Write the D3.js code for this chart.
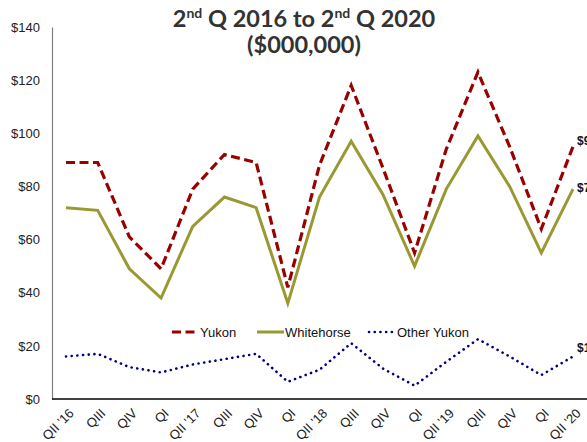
<!DOCTYPE html>
<html>

<head>
    <meta charset="utf-8">
    <title></title>
    <style>
        body { margin: 0; background: #fff; }
        text { font-family: "Liberation Sans", Arial, sans-serif; }
    </style>
</head>

<body>
    <script src="https://cdn.jsdelivr.net/npm/d3@7/dist/d3.min.js"></script>
    <script>
    // categories (quarters)
    let quarters = ["QII '16", "QIII", "QIV", "QI", "QII '17", "QIII", "QIV", "QI", "QII '18",
        "QIII", "QIV", "QI", "QII '19", "QIII", "QIV", "QI", "QII '20"];

    // series values ($000,000)
    let yukon = [89, 89, 61, 49, 79, 92, 89, 42, 88, 118, 87, 55, 94, 123, 95, 64, 95];
    let whitehorse = [72, 71, 49, 38, 65, 76, 72, 36, 76, 97, 77, 50, 79, 99, 80, 55, 79];
    let otherYukon = [16, 17, 12, 10, 13, 15, 17, 6.5, 11, 21, 11.5, 5, 14, 22.5, 16, 9, 16];

    let yTicks = [0, 20, 40, 60, 80, 100, 120, 140];
    let seriesNames = ["Yukon", "Whitehorse", "Other Yukon"];

    let width = 587,
        height = 442;

    let svg = d3.select('body').append('svg').attr('width', width).attr('height', height);

    // keys: indices, so repeated labels are separate points
    let xScale = d3.scalePoint()
        .domain(d3.range(quarters.length))
        .range([66, 573]);

    let yScale = d3.scaleLinear()
        .domain([0, 140])
        .range([399, 27]);

    // y axis
    let yAxis = d3.axisLeft(yScale)
        .tickValues(yTicks)
        .tickSize(0)
        .tickPadding(12)
        .tickFormat(d => "$" + d);

    let gy = svg.append("g")
        .attr("transform", "translate(52,0)")
        .call(yAxis);
    gy.select(".domain").attr("stroke", "#808080").attr("stroke-width", 1.2);
    gy.selectAll("text").attr("font-size", 13).attr("fill", "#222");

    // x axis
    let xAxis = d3.axisBottom(xScale)
        .tickSize(0)
        .tickFormat(i => quarters[i]);

    let gx = svg.append("g")
        .attr("transform", "translate(0,399)")
        .call(xAxis);
    gx.select(".domain").attr("d", "M52,0H" + width).attr("stroke", "#000").attr("stroke-width", 1.5);
    gx.selectAll("text")
        .attr("font-size", 13)
        .attr("fill", "#222")
        .attr("text-anchor", "end")
        .attr("dy", 0)
        .attr("transform", "translate(6,13) rotate(-45)");

    // lines
    let styles = [
        { data: yukon, color: "#990000", width: 3.2, dash: "9,4.5", cap: "butt" },
        { data: whitehorse, color: "#999933", width: 3, dash: null, cap: "butt" },
        { data: otherYukon, color: "#000080", width: 2.6, dash: "0.1,5.6", cap: "round" }
    ];

    let line = d3.line()
        .x((d, i) => xScale(i))
        .y(d => yScale(d));

    styles.forEach(function(s) {
        svg.append("path")
            .datum(s.data)
            .attr("fill", "none")
            .attr("stroke", s.color)
            .attr("stroke-width", s.width)
            .attr("stroke-dasharray", s.dash)
            .attr("stroke-linecap", s.cap)
            .attr("stroke-linejoin", "miter")
            .attr("d", line);
    });

    // end labels
    let last = quarters.length - 1;
    let labelOffsets = [-2, 3, -4];
    styles.forEach(function(s, k) {
        svg.append("text")
            .attr("x", xScale(last) + 4)
            .attr("y", yScale(s.data[last]) + labelOffsets[k])
            .attr("font-size", 12)
            .attr("font-weight", "bold")
            .attr("fill", "#111")
            .text("$" + Math.round(s.data[last]));
    });

    // legend
    let legendX = [172, 257, 369];
    let legend = svg.append("g").attr("transform", "translate(0,332)");
    styles.forEach(function(s, k) {
        legend.append("line")
            .attr("x1", legendX[k]).attr("x2", legendX[k] + 27)
            .attr("y1", 0).attr("y2", 0)
            .attr("stroke", s.color)
            .attr("stroke-width", s.width)
            .attr("stroke-dasharray", s.dash)
            .attr("stroke-linecap", s.cap);
        legend.append("text")
            .attr("x", legendX[k] + 28)
            .attr("y", 5)
            .attr("font-size", 13)
            .attr("fill", "#111")
            .text(seriesNames[k]);
    });

    // title
    let title = svg.append("text")
        .attr("x", 304)
        .attr("y", 27)
        .attr("text-anchor", "middle")
        .attr("font-size", 23.5)
        .attr("font-weight", "bold")
        .attr("fill", "#333")
        .style("font-family", "Lato, 'Open Sans', sans-serif");
    title.append("tspan").text("2");
    title.append("tspan").attr("font-size", 14).attr("dy", -9).text("nd");
    title.append("tspan").attr("dy", 9).text(" Q 2016 to 2");
    title.append("tspan").attr("font-size", 14).attr("dy", -9).text("nd");
    title.append("tspan").attr("dy", 9).text(" Q 2020");

    svg.append("text")
        .attr("x", 304)
        .attr("y", 53)
        .attr("text-anchor", "middle")
        .attr("font-size", 23.5)
        .attr("font-weight", "bold")
        .attr("fill", "#333")
        .style("font-family", "Lato, 'Open Sans', sans-serif")
        .text("($000,000)");
    </script>
</body>

</html>
